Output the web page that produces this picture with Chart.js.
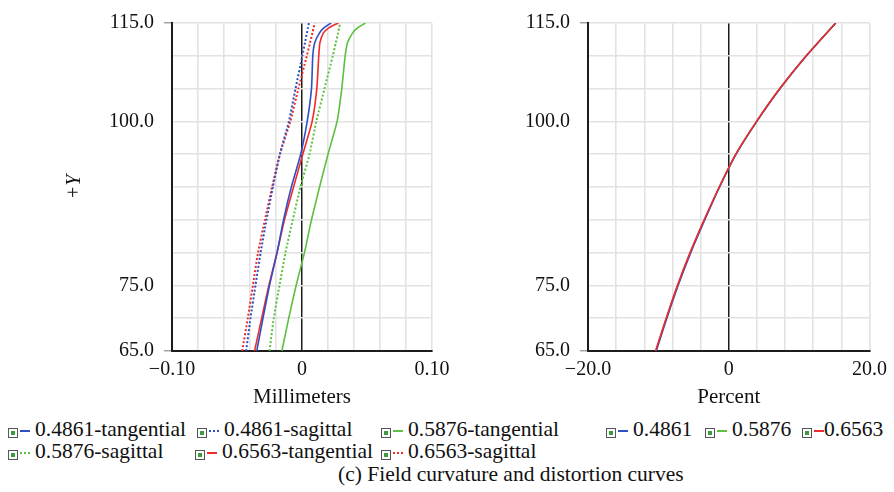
<!DOCTYPE html>
<html>
<head>
<meta charset="utf-8">
<script src="https://cdn.jsdelivr.net/npm/chart.js@4.4.1/dist/chart.umd.min.js"></script>
<style>
  html, body { margin: 0; padding: 0; background: #fff; }
  #wrap { position: relative; width: 894px; height: 492px; overflow: hidden;
          font-family: "Liberation Serif", "DejaVu Serif", serif; color: #111; }
  canvas { position: absolute; top: 0; }
  #fc { left: 0; }
  #dc { left: 447px; }
  .item { position: absolute; font-size: 21.5px; line-height: 1; white-space: nowrap; height: 22px; }
  .box { position: absolute; left: 0; top: 9px; width: 8px; height: 8px; border: 1px solid #555; background: #fff; }
  .box::after { content: ''; position: absolute; left: 2px; top: 2px; width: 4px; height: 4px; background: #3d9b3d; }
  .swatch { position: absolute; left: 12px; top: 11px; width: 10px; height: 0; border-top: 2px solid; }
  .label { position: absolute; left: 27px; top: 0; }
  .tight .label { left: 22px; }
  #caption { position: absolute; left: 338px; top: 464px; font-size: 21.5px; line-height: 1; white-space: nowrap; }
</style>
</head>
<body>
<div id="wrap">
  <canvas id="fc" width="470" height="410"></canvas>
  <canvas id="dc" width="447" height="410"></canvas>
  <div id="legend"></div>
  <div id="caption">(c) Field curvature and distortion curves</div>
</div>
<script>
// field height (+Y) at which the curves are sampled
const fieldY = [65, 70, 75, 80, 85, 90, 95, 100, 105, 110, 112, 113.5, 114.3, 115];

// field curvature, mm
const tan4861 = [-0.0348, -0.0300, -0.0250, -0.0192, -0.0142, -0.0082, -0.0010, 0.0040, 0.0073, 0.0083, 0.0098, 0.0135, 0.0170, 0.0224];
const sag4861 = [-0.0430, -0.0396, -0.0358, -0.0318, -0.0273, -0.0224, -0.0170, -0.0101, -0.0050, 0.0003, 0.0023, 0.0038, 0.0046, 0.0053];
const tan5876 = [-0.0155, -0.0102, -0.0045, 0.0019, 0.0073, 0.0135, 0.0200, 0.0270, 0.0306, 0.0332, 0.0350, 0.0390, 0.0430, 0.0488];
const sag5876 = [-0.0250, -0.0217, -0.0173, -0.0127, -0.0071, -0.0012, 0.0058, 0.0110, 0.0173, 0.0237, 0.0260, 0.0278, 0.0286, 0.0294];
const tan6563 = [-0.0365, -0.0310, -0.0255, -0.0192, -0.0135, -0.0065, 0.0006, 0.0078, 0.0114, 0.0129, 0.0138, 0.0165, 0.0210, 0.0280];
const sag6563 = [-0.0460, -0.0417, -0.0378, -0.0338, -0.0285, -0.0230, -0.0170, -0.0090, -0.0028, 0.0037, 0.0062, 0.0080, 0.0090, 0.0101];

// distortion, percent
const distY = [65, 70, 75, 80, 85, 90, 95, 100, 105, 110, 115];
const dist4861 = [-10.3, -8.8, -7.2, -5.4, -3.4, -1.3, 1.05, 4.0, 7.3, 11.05, 15.2];
const dist5876 = [-10.35, -8.85, -7.25, -5.45, -3.45, -1.32, 1.02, 3.97, 7.27, 11.02, 15.2];
const dist6563 = [-10.4, -8.9, -7.3, -5.5, -3.5, -1.35, 1.0, 3.95, 7.25, 11.0, 15.2];

// labelled ticks
const yTickLabels = [65, 75, 100, 115];
const mmTickLabels = [-0.10, 0, 0.10];
const pctTickLabels = [-20, 0, 20];

const BLUE = '#2f4fc4';
const GREEN = '#5cbf3f';
const RED = '#f22a2a';
const GRID = '#e2e2e2';
const AXIS = '#1c1c1c';
const SERIF = '"Liberation Serif", "Times New Roman", serif';

function pts(ys, xs) {
  return ys.map((y, i) => ({ x: xs[i], y }));
}

function fmtSigned(v, digits) {
  if (v === 0) return '0';
  const s = Math.abs(v).toFixed(digits);
  return v < 0 ? '\u2212' + s : s;
}

function line(label, ys, xs, color, dotted, order) {
  return {
    label,
    data: pts(ys, xs),
    borderColor: color,
    borderWidth: dotted ? 2 : 1.6,
    borderDash: dotted ? [2, 2] : [],
    showLine: true,
    pointRadius: 0,
    tension: 0.2,
    order: order || 0,
  };
}

function buildOptions(cfg) {
  const tickFont = { family: SERIF, size: 20 };
  return {
    responsive: false,
    animation: false,
    layout: { padding: { top: 23, right: cfg.padRight, bottom: 0, left: 0 } },
    plugins: { legend: { display: false }, tooltip: { enabled: false } },
    scales: {
      x: {
        type: 'linear',
        min: cfg.xMin,
        max: cfg.xMax,
        afterFit(scale) { scale.height = 59; },
        ticks: {
          stepSize: cfg.xStep,
          autoSkip: false,
          maxRotation: 0,
          padding: 7,
          color: '#111',
          font: tickFont,
          callback(value) {
            const v = Math.round(value * cfg.xRound) / cfg.xRound;
            return cfg.xLabels.includes(v) ? fmtSigned(v, cfg.xDigits) : '';
          },
        },
        grid: {
          drawTicks: false,
          color: (ctx) => (ctx.tick && Math.abs(ctx.tick.value) < 1e-9 ? AXIS : GRID),
          lineWidth: (ctx) => (ctx.tick && Math.abs(ctx.tick.value) < 1e-9 ? 1.5 : 1.6),
        },
        border: { color: AXIS, width: 2 },
        title: {
          display: true,
          text: cfg.xTitle,
          color: '#111',
          font: { family: SERIF, size: 21 },
          padding: { top: 0, bottom: 0 },
        },
      },
      y: {
        type: 'linear',
        min: 65,
        max: 115,
        afterFit(scale) { scale.width = cfg.yWidth; },
        ticks: {
          stepSize: 5,
          autoSkip: false,
          padding: 10,
          color: '#111',
          font: tickFont,
          callback: (value) => (yTickLabels.includes(value) ? value.toFixed(1) : ''),
        },
        grid: {
          color: GRID,
          lineWidth: 1.6,
          drawTicks: true,
          tickLength: 8,
          tickWidth: 1,
          tickColor: (ctx) => (ctx.tick && (ctx.tick.value === 65 || ctx.tick.value === 115) ? '#777' : 'rgba(0,0,0,0)'),
        },
        border: { color: AXIS, width: 2 },
        title: {
          display: !!cfg.yTitle,
          text: cfg.yTitle || '',
          color: '#111',
          font: { family: SERIF, size: 20, style: 'italic' },
          padding: { top: 63, bottom: 0 },
        },
      },
    },
  };
}

const curvatureSets = [
  line('0.4861-tangential', fieldY, tan4861, BLUE, false),
  line('0.4861-sagittal', fieldY, sag4861, BLUE, true),
  line('0.5876-tangential', fieldY, tan5876, GREEN, false),
  line('0.5876-sagittal', fieldY, sag5876, GREEN, true),
  line('0.6563-tangential', fieldY, tan6563, RED, false),
  line('0.6563-sagittal', fieldY, sag6563, RED, true),
];

const distortionSets = [
  line('0.4861', distY, dist4861, BLUE, false, 1),
  line('0.5876', distY, dist5876, GREEN, false, 2),
  line('0.6563', distY, dist6563, RED, false, 0),
];

new Chart(document.getElementById('fc'), {
  type: 'scatter',
  data: { datasets: curvatureSets },
  options: buildOptions({
    xMin: -0.1, xMax: 0.1, xStep: 0.02, xRound: 100, xDigits: 2,
    xLabels: mmTickLabels, xTitle: 'Millimeters',
    yWidth: 172, padRight: 38, yTitle: '+Y',
  }),
});

new Chart(document.getElementById('dc'), {
  type: 'scatter',
  data: { datasets: distortionSets },
  options: buildOptions({
    xMin: -20, xMax: 20, xStep: 4, xRound: 10, xDigits: 1,
    xLabels: pctTickLabels, xTitle: 'Percent',
    yWidth: 141, padRight: 21, yTitle: null,
  }),
});

// legend rows under both plots
const legendItems = [
  { set: curvatureSets[0], x: 8, row: 0 },
  { set: curvatureSets[1], x: 197, row: 0 },
  { set: curvatureSets[2], x: 381, row: 0 },
  { set: distortionSets[0], x: 606, row: 0 },
  { set: distortionSets[1], x: 705, row: 0 },
  { set: distortionSets[2], x: 802, row: 0, tight: true },
  { set: curvatureSets[3], x: 8, row: 1 },
  { set: curvatureSets[4], x: 195, row: 1 },
  { set: curvatureSets[5], x: 381, row: 1 },
];
const legend = document.getElementById('legend');
const rowTop = [419, 441];
legendItems.forEach(({ set, x, row, tight }) => {
  const el = document.createElement('div');
  el.className = tight ? 'item tight' : 'item';
  el.style.left = x + 'px';
  el.style.top = rowTop[row] + 'px';
  const style = set.borderDash.length ? 'dotted' : 'solid';
  el.innerHTML = '<span class="box"></span>' +
    '<span class="swatch" style="border-top-color:' + set.borderColor + ';border-top-style:' + style + '"></span>' +
    '<span class="label">' + set.label + '</span>';
  legend.appendChild(el);
});
</script>
</body>
</html>
